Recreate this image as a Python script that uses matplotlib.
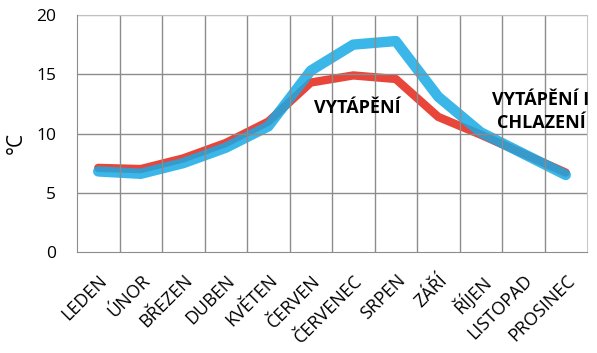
import matplotlib
matplotlib.use("Agg")
import matplotlib.pyplot as plt
import numpy as np

months = ["LEDEN", "ÚNOR", "BŘEZEN", "DUBEN", "KVĚTEN", "ČERVEN", "ČERVENEC",
          "SRPEN", "ZÁŘÍ", "ŘÍJEN", "LISTOPAD", "PROSINEC"]
red_vals = [7.1, 7.0, 7.9, 9.2, 11.0, 14.3, 14.9, 14.6, 11.4, 9.9, 8.3, 6.7]
blue_vals = [6.8, 6.6, 7.5, 8.8, 10.6, 15.3, 17.5, 17.8, 13.1, 10.1, 8.3, 6.5]
yticks = [0, 5, 10, 15, 20]

plt.rcParams['font.family'] = ['Open Sans', 'DejaVu Sans']

fig = plt.figure(figsize=(5.97, 3.53), dpi=100)
ax = fig.add_axes([77/597, 101/353, 510/597, 237/353])

x = np.arange(len(months))
ax.plot(x, red_vals, color="#E8463A", lw=6, solid_capstyle='round', solid_joinstyle='round', zorder=3)
ax.plot(x, blue_vals, color="#18AAE4", lw=7.5, alpha=0.85, solid_capstyle='round', solid_joinstyle='round', zorder=4)

ax.set_xlim(-0.5, len(months) - 0.5)
ax.set_ylim(0, 20)
ax.set_yticks(yticks)
ax.set_xticks(x)
ax.set_xticklabels(months, rotation=45, ha='right', rotation_mode='anchor', fontsize=13)
ax.tick_params(axis='y', labelsize=12.5, length=0, pad=15)
ax.tick_params(axis='x', length=0, pad=14)

for b in np.arange(0.5, len(months) - 0.5, 1):
    ax.axvline(b, color="#8C8C8C", lw=1, zorder=5)
for yv in yticks[1:-1]:
    ax.axhline(yv, color="#8C8C8C", lw=1, zorder=5)
ax.axhline(20, color="#C0C0C0", lw=1, zorder=5)

for s in ['top', 'right']:
    ax.spines[s].set_color("#C8C8C8")
for s in ['left', 'bottom']:
    ax.spines[s].set_color("#8C8C8C")
    ax.spines[s].set_zorder(6)

ax.set_ylabel("°C", fontsize=15, va='center')
ax.yaxis.set_label_coords(-0.12, 0.46)

ax.text(6.09, 11.73, "VYTÁPĚNÍ", fontsize=13, fontweight='bold', ha='center', va='baseline', zorder=7)
ax.text(10.42, 12.41, "VYTÁPĚNÍ I", fontsize=13, fontweight='bold', ha='center', va='baseline', zorder=7)
ax.text(10.42, 10.46, "CHLAZENÍ", fontsize=13, fontweight='bold', ha='center', va='baseline', zorder=7)

fig.savefig("out.png", dpi=100)
